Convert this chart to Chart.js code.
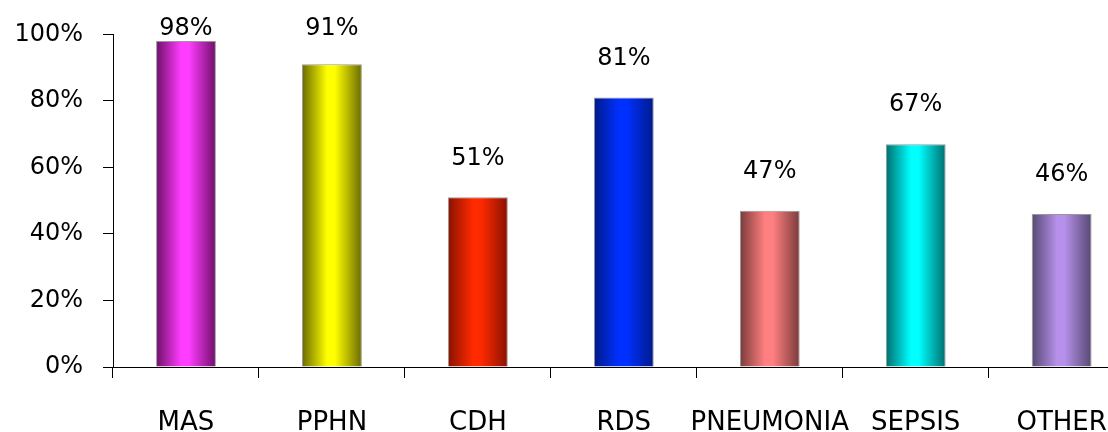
<!DOCTYPE html>
<html>
<head>
<meta charset="utf-8">
<style>
  html, body { margin: 0; padding: 0; background: #fff; overflow: hidden; }
  #wrap { position: relative; width: 1137px; height: 432px; }
</style>
<script src="https://cdn.jsdelivr.net/npm/chart.js@4"></script>
</head>
<body>
<div id="wrap"><canvas id="c"></canvas></div>
<script>
const categories = ['MAS', 'PPHN', 'CDH', 'RDS', 'PNEUMONIA', 'SEPSIS', 'OTHER'];
const survival = [98, 91, 51, 81, 47, 67, 46];
const yTicks = [0, 20, 40, 60, 80, 100];
// centre tone and edge tone of each cylinder-shaded bar
const brightColors = ['#ff3cff', '#ffff00', '#ff2a00', '#0030ff', '#ff8080', '#00ffff', '#b690ea'];
const edgeColors   = ['#6e0f68', '#6a6a00', '#8a1200', '#001a8a', '#7a3a3a', '#006e6e', '#564872'];

const FONT = '"DejaVu Sans", sans-serif';
const BAR_PCT = 0.41;

function cylinderFill(ctx) {
  const chart = ctx.chart;
  const i = ctx.dataIndex;
  const xs = chart.scales && chart.scales.x;
  if (!chart.chartArea || !xs || i === undefined) return brightColors[i] || '#999';
  const cx = xs.getPixelForValue(i);
  const half = xs.width / categories.length * BAR_PCT / 2;
  const g = chart.ctx.createLinearGradient(cx - half, 0, cx + half, 0);
  g.addColorStop(0, edgeColors[i]);
  g.addColorStop(0.42, brightColors[i]);
  g.addColorStop(0.55, brightColors[i]);
  g.addColorStop(1, edgeColors[i]);
  return g;
}

const valueLabels = {
  id: 'valueLabels',
  afterDatasetsDraw(chart) {
    const ctx = chart.ctx;
    const meta = chart.getDatasetMeta(0);
    ctx.save();
    ctx.font = '24px ' + FONT;
    ctx.fillStyle = '#000';
    ctx.textAlign = 'center';
    ctx.textBaseline = 'middle';
    meta.data.forEach((bar, i) => {
      const y = Math.max(bar.y - 39, 29);
      ctx.fillText(survival[i] + '%', bar.x, y);
    });
    ctx.restore();
  }
};

new Chart(document.getElementById('c'), {
  type: 'bar',
  data: {
    labels: categories,
    datasets: [{
      data: survival,
      backgroundColor: cylinderFill,
      borderColor: 'rgba(50,50,50,0.5)',
      borderWidth: 1,
      barPercentage: BAR_PCT,
      categoryPercentage: 1
    }]
  },
  options: {
    responsive: true,
    maintainAspectRatio: false,
    animation: false,
    layout: { padding: { top: 34, right: 2, left: 0, bottom: 0 } },
    plugins: { legend: { display: false }, tooltip: { enabled: false } },
    scales: {
      x: {
        grid: { offset: true, drawOnChartArea: false, tickLength: 11, color: '#000', tickColor: '#000' },
        border: { color: '#000', width: 1 },
        ticks: { color: '#000', font: { family: FONT, size: 26 }, padding: 30, maxRotation: 0, autoSkip: false },
        afterFit(scale) { scale.height = 65; }
      },
      y: {
        min: 0, max: 100,
        afterBuildTicks(scale) { scale.ticks = yTicks.map(v => ({ value: v })); },
        grid: { drawOnChartArea: false, tickLength: 10, color: '#000', tickColor: '#000' },
        border: { color: '#000', width: 1 },
        ticks: { color: '#000', font: { family: FONT, size: 24 }, padding: 20, callback: v => v + '%' },
        afterFit(scale) { scale.width = 113; }
      }
    }
  },
  plugins: [valueLabels]
});
</script>
</body>
</html>
